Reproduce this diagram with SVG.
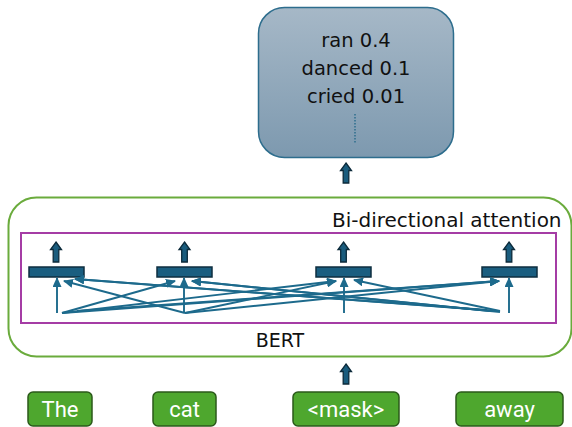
<svg xmlns="http://www.w3.org/2000/svg" width="572" height="427" viewBox="0 0 572 427">
  <defs>
    <linearGradient id="outGrad" x1="0" y1="0" x2="0" y2="1">
      <stop offset="0" stop-color="#a6b8c7"/>
      <stop offset="1" stop-color="#7d99af"/>
    </linearGradient>
    <marker id="head" markerUnits="userSpaceOnUse" markerWidth="10" markerHeight="9" refX="9" refY="4.5" orient="auto">
      <path d="M0,0 L10,4.5 L0,9 Z" fill="#1d6a8c"/>
    </marker>
    <!-- small block arrow pointing up, tip at origin -->
    <path id="upArrow" d="M0,0 L5.5,7.5 L2.8,7.5 L2.8,20 L-2.8,20 L-2.8,7.5 L-5.5,7.5 Z"/>
  </defs>
  <style>
    .blk { fill: #1a5c7d; stroke: #0c2a3a; stroke-width: 1.3; }
    .bar { fill: #1a5e80; stroke: #0e2e3f; stroke-width: 1.5; }
    .att { stroke: #1d6a8c; stroke-width: 1.9; fill: none; marker-end: url(#head); }
    .tok rect { fill: #4ea72e; stroke: #2b5a1a; stroke-width: 1.5; }
    .tok text { font-family: Roboto, "Liberation Sans", sans-serif; font-size: 22px; fill: #ffffff; text-anchor: middle; }
    .lbl { font-family: "DejaVu Sans", "Liberation Sans", sans-serif; fill: #111111; }
  </style>

  <!-- output distribution -->
  <g id="output">
    <rect x="258.5" y="7.5" width="195" height="150" rx="26" fill="url(#outGrad)" stroke="#2d6d8d" stroke-width="1.5"/>
    <text class="lbl" x="356" y="47" font-size="19.5" text-anchor="middle">ran 0.4</text>
    <text class="lbl" x="356" y="75" font-size="19.5" text-anchor="middle">danced 0.1</text>
    <text class="lbl" x="356" y="103" font-size="19.5" text-anchor="middle">cried 0.01</text>
    <line x1="355" y1="114" x2="355" y2="143" stroke="#2d6d8d" stroke-width="1.5" stroke-dasharray="1.5 1.5"/>
  </g>

  <use href="#upArrow" class="blk" x="346" y="163"/>

  <!-- BERT encoder -->
  <g id="bert">
    <rect x="8.5" y="197.5" width="563" height="159" rx="28" fill="none" stroke="#6aab3c" stroke-width="2"/>
    <text class="lbl" x="332" y="227" font-size="20">Bi-directional attention</text>
    <text class="lbl" x="280" y="347" font-size="19" text-anchor="middle">BERT</text>
  </g>

  <g id="attention">
    <rect x="21" y="233" width="535" height="90" fill="none" stroke="#a53ca5" stroke-width="2"/>
    <g id="pos1">
      <rect class="bar" x="29" y="267" width="55" height="10"/>
      <use href="#upArrow" class="blk" x="56" y="242"/>
    </g>
    <g id="pos2">
      <rect class="bar" x="157" y="267" width="55" height="10"/>
      <use href="#upArrow" class="blk" x="184.5" y="242"/>
    </g>
    <g id="pos3">
      <rect class="bar" x="316" y="267" width="55" height="10"/>
      <use href="#upArrow" class="blk" x="343.5" y="242"/>
    </g>
    <g id="pos4">
      <rect class="bar" x="482" y="267" width="55" height="10"/>
      <use href="#upArrow" class="blk" x="509" y="242"/>
    </g>
  </g>

  <!-- attention connectors -->
  <g id="connectors">
    <line class="att" x1="57" y1="313" x2="57" y2="278"/>
    <line class="att" x1="184" y1="313" x2="184" y2="278"/>
    <line class="att" x1="344" y1="313" x2="344" y2="278"/>
    <line class="att" x1="509" y1="313" x2="509" y2="278"/>

    <line class="att" x1="62" y1="313" x2="175" y2="281"/>
    <line class="att" x1="62" y1="313" x2="336" y2="281"/>
    <line class="att" x1="62" y1="313" x2="499" y2="281"/>
    <line class="att" x1="77" y1="311" x2="499" y2="281"/>

    <line class="att" x1="185" y1="313" x2="64" y2="281"/>
    <line class="att" x1="185" y1="313" x2="336" y2="281"/>
    <line class="att" x1="185" y1="313" x2="499" y2="281"/>

    <line class="att" x1="497" y1="311" x2="75" y2="279"/>
    <line class="att" x1="487" y1="310" x2="75" y2="279"/>
    <line class="att" x1="500" y1="312" x2="192" y2="281"/>
    <line class="att" x1="490" y1="311" x2="192" y2="281"/>
    <line class="att" x1="500" y1="311" x2="354" y2="280"/>
  </g>

  <use href="#upArrow" class="blk" x="346" y="364"/>

  <!-- input tokens -->
  <g id="tok-the" class="tok">
    <rect x="28" y="392" width="64" height="34" rx="5"/>
    <text x="60" y="417">The</text>
  </g>
  <g id="tok-cat" class="tok">
    <rect x="153" y="392" width="63" height="34" rx="5"/>
    <text x="184.5" y="417">cat</text>
  </g>
  <g id="tok-mask" class="tok">
    <rect x="293" y="392" width="106" height="34" rx="5"/>
    <text x="346" y="417">&lt;mask&gt;</text>
  </g>
  <g id="tok-away" class="tok">
    <rect x="456" y="392" width="107" height="34" rx="5"/>
    <text x="509.5" y="417">away</text>
  </g>
</svg>
